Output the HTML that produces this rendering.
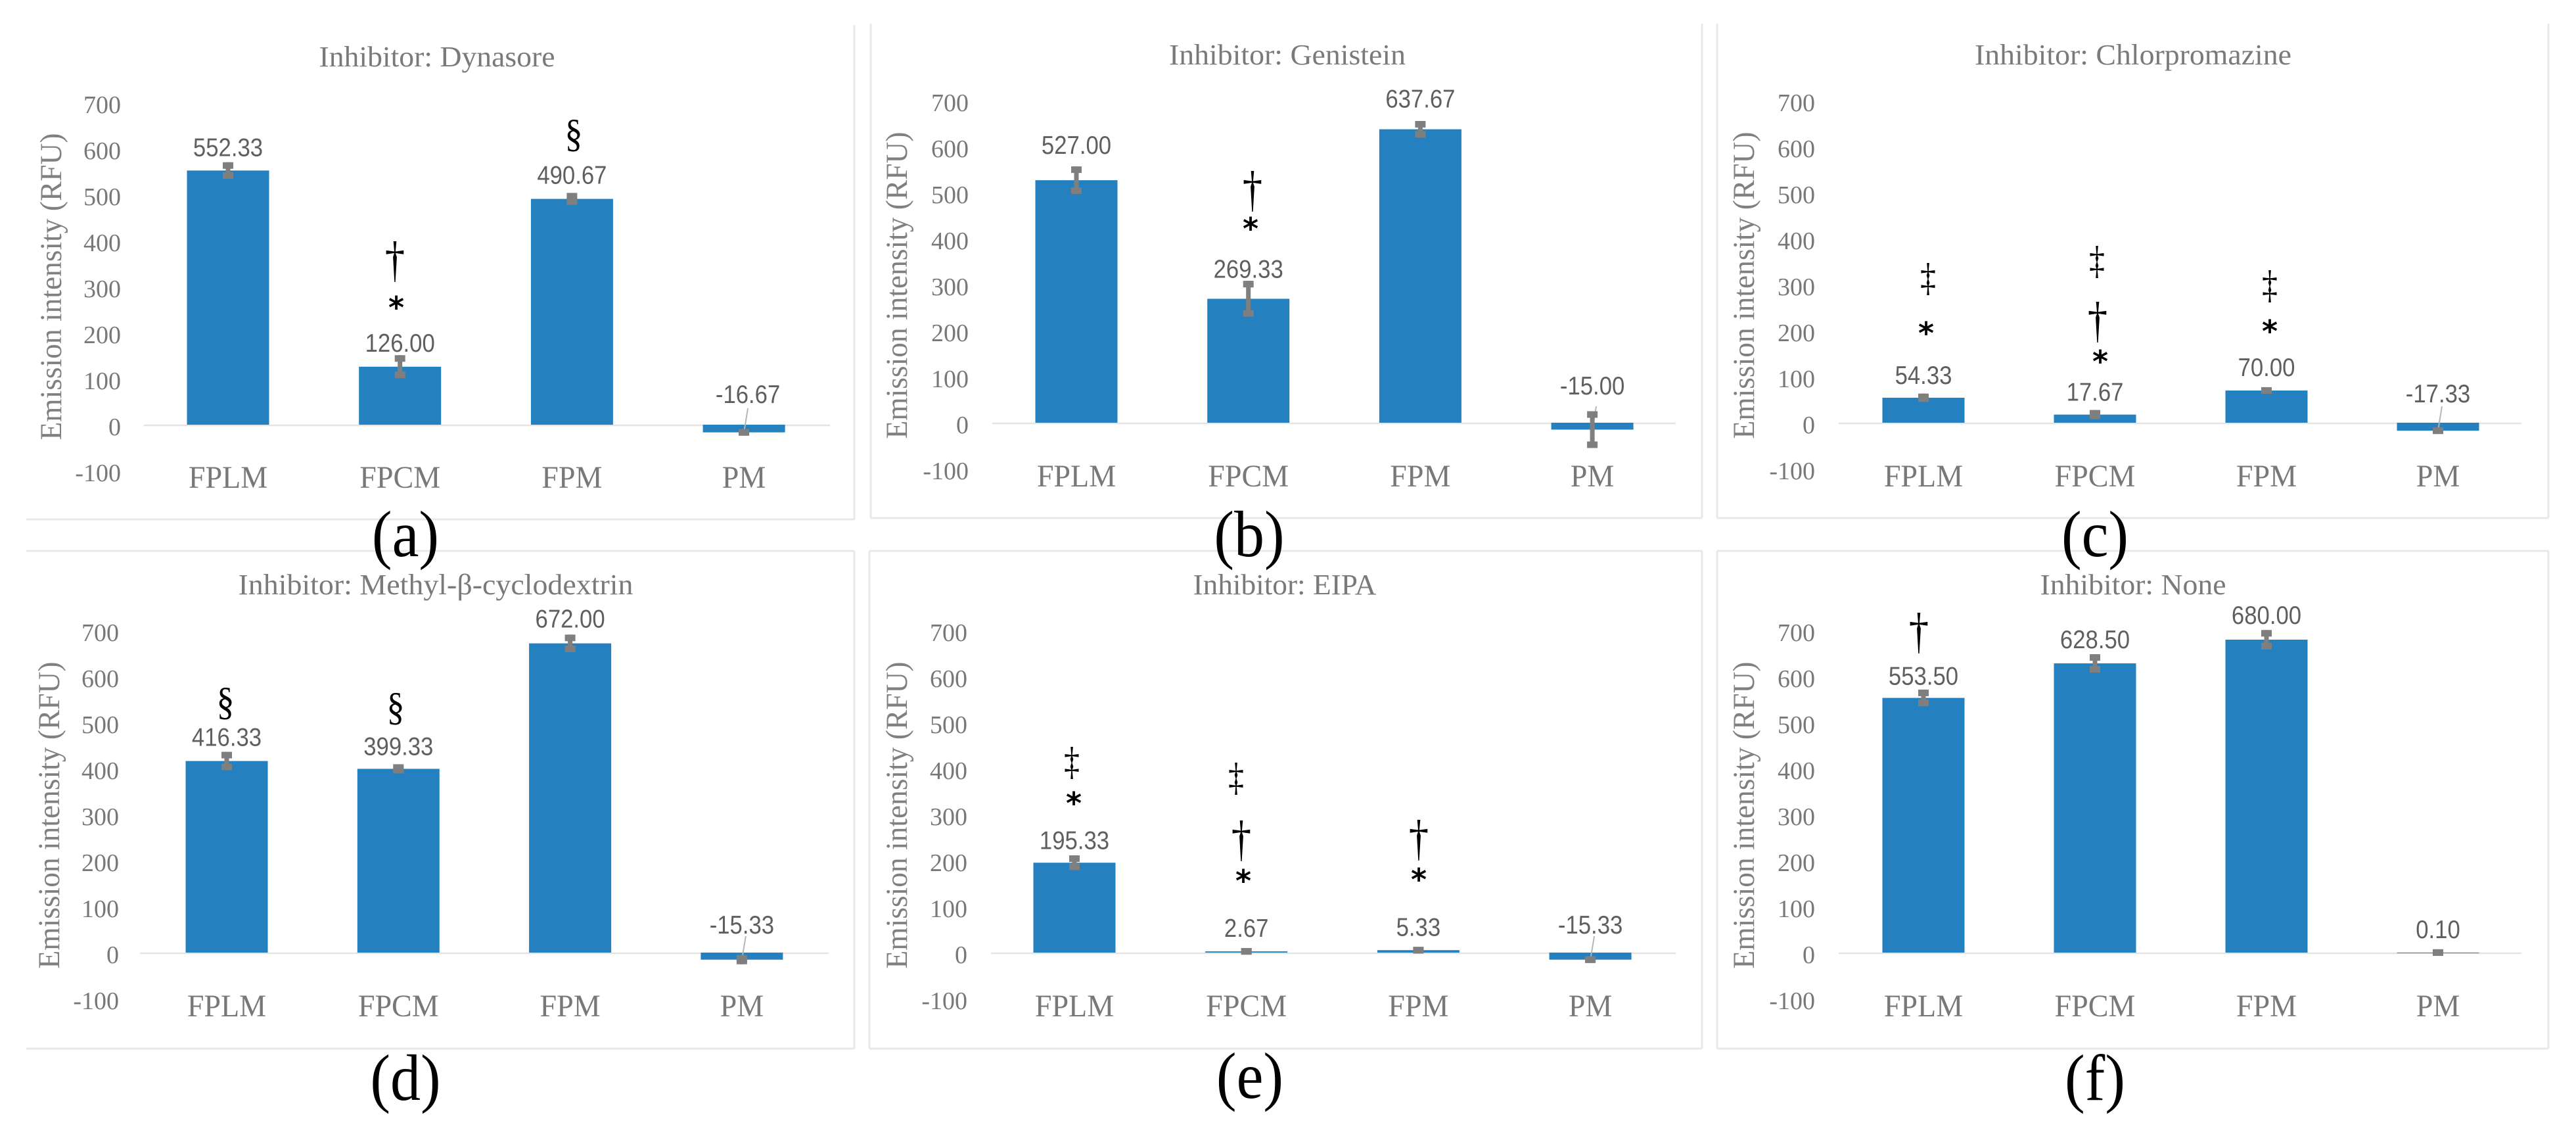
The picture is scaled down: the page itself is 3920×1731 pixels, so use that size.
<!DOCTYPE html>
<html lang="en">
<head>
<meta charset="utf-8">
<title>Emission intensity by inhibitor</title>
<style>
  html, body { margin: 0; padding: 0; background: #fff; }
  svg { display: block; }
  .serif { font-family: "Liberation Serif", serif; }
  .sans { font-family: "Liberation Sans", sans-serif; }
  .squeeze { transform-box: fill-box; transform-origin: center; }
  .cat-text { transform: scaleX(0.96); }
  .value-text { transform: scaleX(0.89); }
  .dagger { font-family: "Liberation Serif", serif; font-size: 76px; fill: #000; text-anchor: middle; transform: scaleX(0.8); }
  .ddagger { font-family: "Liberation Serif", serif; font-size: 60px; fill: #000; text-anchor: middle; transform: scaleX(0.8); }
  .section { font-family: "Liberation Serif", serif; font-size: 60px; fill: #000; text-anchor: middle; transform: scaleX(0.9); }
  .star { font-family: "DejaVu Sans", sans-serif; font-weight: bold; font-size: 46px; fill: #000; text-anchor: middle; }
  .sub { font-family: "Liberation Serif", serif; font-size: 100px; fill: #000; text-anchor: middle; transform: scaleX(0.92); }
</style>
</head>
<body>
<svg id="figure" xmlns="http://www.w3.org/2000/svg" width="3920" height="1731" viewBox="0 0 3920 1731">
  <rect x="0" y="0" width="3920" height="1731" fill="#fff"/>
  <g id="panels"></g>

  <g>
    <text class="dagger squeeze" x="601" y="420">†</text>
    <text class="star" x="603" y="484">*</text>
    <text class="section squeeze" x="873" y="223">§</text>
  </g>
  <g>
    <text class="dagger squeeze" x="1906" y="313">†</text>
    <text class="star" x="1903" y="364">*</text>
  </g>
  <g>
    <text class="ddagger squeeze" x="2934" y="442">‡</text>
    <text class="star" x="2931" y="523">*</text>
    <text class="ddagger squeeze" x="3191" y="416">‡</text>
    <text class="dagger squeeze" x="3192" y="512">†</text>
    <text class="star" x="3196" y="566">*</text>
    <text class="ddagger squeeze" x="3454" y="453">‡</text>
    <text class="star" x="3454" y="520">*</text>
  </g>
  <g>
    <text class="section squeeze" x="343" y="1087">§</text>
    <text class="section squeeze" x="602" y="1095">§</text>
  </g>
  <g>
    <text class="ddagger squeeze" x="1631" y="1178">‡</text>
    <text class="star" x="1634" y="1238">*</text>
    <text class="ddagger squeeze" x="1881" y="1202">‡</text>
    <text class="dagger squeeze" x="1889" y="1301">†</text>
    <text class="star" x="1892" y="1356">*</text>
    <text class="dagger squeeze" x="2159" y="1300">†</text>
    <text class="star" x="2159" y="1354">*</text>
  </g>
  <g>
    <text class="dagger squeeze" x="2920" y="985">†</text>
  </g>

  <text class="sub squeeze" x="617" y="846">(a)</text>
  <text class="sub squeeze" x="1901" y="846">(b)</text>
  <text class="sub squeeze" x="3188" y="846">(c)</text>
  <text class="sub squeeze" x="617" y="1673">(d)</text>
  <text class="sub squeeze" x="1902" y="1670">(e)</text>
  <text class="sub squeeze" x="3188" y="1673">(f)</text>
</svg>

<script>
// ---- chart data ----
const categories = ["FPLM", "FPCM", "FPM", "PM"];
const tickValues = [700, 600, 500, 400, 300, 200, 100, 0, -100];
const yAxisLabel = "Emission intensity (RFU)";

const titleA = "Inhibitor: Dynasore";
const valuesA = [552.33, 126.00, 490.67, -16.67];
const errorsA = [18, 25, 13, 7];

const titleB = "Inhibitor: Genistein";
const valuesB = [527.00, 269.33, 637.67, -15.00];
const errorsB = [30, 39, 18, 40];

const titleC = "Inhibitor: Chlorpromazine";
const valuesC = [54.33, 17.67, 70.00, -17.33];
const errorsC = [9, 10, 7, 7];

const titleD = "Inhibitor: Methyl-β-cyclodextrin";
const valuesD = [416.33, 399.33, 672.00, -15.33];
const errorsD = [20, 10, 19, 10];

const titleE = "Inhibitor: EIPA";
const valuesE = [195.33, 2.67, 5.33, -15.33];
const errorsE = [16, 7, 7, 7];

const titleF = "Inhibitor: None";
const valuesF = [553.50, 628.50, 680.00, 0.10];
const errorsF = [18, 20, 21, 7];

// ---- layout (not data) ----
const PX_PER_UNIT = 0.70;
const BAR_W = 125;
const NS = "http://www.w3.org/2000/svg";
const panelLayouts = [
  { id: "a", title: titleA, values: valuesA, errors: errorsA, first: 347, step: 261.7, zero: 646, tickX: 184, yTitleX: 80, yTitleY: 436, titleX: 665, titleY: 87, titleW: 359, catY: 726,
    frame: { l: 40, r: 1300, t: 38, b: 790, left: false, top: false }, axis: [219, 1263], lift: [36, 37, 37, 47], leader: [0, 0, 0, 1], shift: [0, 0, 0, 6] },
  { id: "b", title: titleB, values: valuesB, errors: errorsB, first: 1638, step: 261.7, zero: 643, tickX: 1474, yTitleX: 1367, yTitleY: 434, titleX: 1959, titleY: 84, titleW: 360, catY: 724,
    frame: { l: 1325, r: 2590, t: 36, b: 788, left: true, top: false }, axis: [1510, 2550], lift: [54, 46, 47, 57], leader: [0, 0, 0, 1], shift: [0, 0, 0, 0] },
  { id: "c", title: titleC, values: valuesC, errors: errorsC, first: 2927, step: 261, zero: 643, tickX: 2762, yTitleX: 2656, yTitleY: 434, titleX: 3246, titleY: 84, titleW: 482, catY: 724,
    frame: { l: 2613, r: 3878, t: 36, b: 788, left: true, top: false }, axis: [2798, 3837], lift: [35, 35, 36, 45], leader: [0, 0, 0, 1], shift: [0, 0, 0, 0] },
  { id: "d", title: titleD, values: valuesD, errors: errorsD, first: 345, step: 261.3, zero: 1449, tickX: 181, yTitleX: 77, yTitleY: 1240, titleX: 663, titleY: 890, titleW: 601, catY: 1530,
    frame: { l: 40, r: 1300, t: 838, b: 1595, left: false, top: true }, axis: [213, 1261], lift: [37, 35, 38, 43], leader: [0, 0, 0, 1], shift: [0, 0, 0, 0] },
  { id: "e", title: titleE, values: valuesE, errors: errorsE, first: 1635, step: 261.7, zero: 1449, tickX: 1472, yTitleX: 1367, yTitleY: 1240, titleX: 1955, titleY: 890, titleW: 279, catY: 1530,
    frame: { l: 1323, r: 2590, t: 838, b: 1595, left: true, top: true }, axis: [1508, 2550], lift: [35, 36, 36, 43], leader: [0, 0, 0, 1], shift: [0, 0, 0, 0] },
  { id: "f", title: titleF, values: valuesF, errors: errorsF, first: 2927, step: 261, zero: 1449, tickX: 2762, yTitleX: 2656, yTitleY: 1240, titleX: 3246, titleY: 890, titleW: 283, catY: 1530,
    frame: { l: 2613, r: 3878, t: 838, b: 1595, left: true, top: true }, axis: [2798, 3837], lift: [34, 37, 38, 36], leader: [0, 0, 0, 0], shift: [0, 0, 0, 0] }
];

function make(tag, attrs, text) {
  const node = document.createElementNS(NS, tag);
  for (const k in attrs) node.setAttribute(k, attrs[k]);
  if (text !== undefined) node.textContent = text;
  return node;
}

function drawPanel(p, root) {
  const xScale = i => p.first + i * p.step;
  const yScale = v => p.zero - v * PX_PER_UNIT;

  const g = make("g", {});
  
  
  root.appendChild(g);

  // frame
  const f = p.frame;
  const sides = [[f.r, f.t, f.r, f.b], [f.l, f.b, f.r, f.b]];
  if (f.left) sides.push([f.l, f.t, f.l, f.b]);
  if (f.top) sides.push([f.l, f.t, f.r, f.t]);
  sides.forEach(s => {
    const border = make("line", { x1: s[0], y1: s[1], x2: s[2], y2: s[3], stroke: "#e8e8e8", "stroke-width": 3 });
    
    
    g.appendChild(border);
  });

  // title
  const title = make("text", { class: "serif", x: p.titleX, y: p.titleY + 14, "text-anchor": "middle", "font-size": 44, fill: "#7a7a7a", textLength: p.titleW, lengthAdjust: "spacingAndGlyphs" }, p.title);
  
  
  g.appendChild(title);

  // y-axis title
  const yTitle = make("text", { class: "serif", "text-anchor": "middle", "font-size": 47, fill: "#808080", textLength: 467, lengthAdjust: "spacingAndGlyphs", transform: "translate(" + (p.yTitleX + 13) + "," + p.yTitleY + ") rotate(-90)" }, yAxisLabel);
  
  
  g.appendChild(yTitle);

  // y ticks
  tickValues.forEach(t => {
    const tick = make("text", { class: "serif", x: p.tickX, y: yScale(t) + 3 + 13, "text-anchor": "end", "font-size": 38, fill: "#787878" }, String(t));
    
    
    g.appendChild(tick);
  });

  // zero line
  const axis = make("line", { x1: p.axis[0], x2: p.axis[1], y1: p.zero + 1, y2: p.zero + 1, stroke: "#e4e4e4", "stroke-width": 2.5 });
  
  
  g.appendChild(axis);

  categories.forEach((cat, i) => {
    const v = p.values[i];
    const e = p.errors[i];
    const cx = xScale(i);
    const y0 = yScale(0);
    const yv = yScale(v);

    const bar = make("rect", { x: cx - BAR_W / 2, y: Math.min(y0, yv), width: BAR_W, height: Math.max(Math.abs(yv - y0), 1), fill: "#2480bf" });
    
    
    g.appendChild(bar);

    if (p.leader[i]) {
      const leader = make("line", { x1: cx, x2: cx + 6, y1: yv, y2: yScale(Math.max(v, 0)) - 25, stroke: "#b5b5b5", "stroke-width": 2 });
      
      
      g.appendChild(leader);
    }

    // error bar: stem plus two square caps
    const yTop = yScale(v + e);
    const yBot = yScale(v - e);
    const stem = make("line", { x1: cx, x2: cx, y1: yTop, y2: yBot, stroke: "#7f7f7f", "stroke-width": 7 });
    
    
    g.appendChild(stem);
    const capTop = make("rect", { x: cx - 8, y: yTop, width: 16, height: 10, fill: "#7f7f7f" });
    
    
    g.appendChild(capTop);
    const capBot = make("rect", { x: cx - 8, y: yBot - 10, width: 16, height: 10, fill: "#7f7f7f" });
    
    
    g.appendChild(capBot);

    // printed value
    const label = make("text", { class: "sans squeeze value-text", x: cx + p.shift[i], y: yScale(Math.max(v, 0)) - p.lift[i] + 14, "text-anchor": "middle", "font-size": 39, fill: "#5f5f5f" }, v.toFixed(2));
    
    
    g.appendChild(label);

    // category
    const catLabel = make("text", { class: "serif squeeze cat-text", x: cx, y: p.catY + 16, "text-anchor": "middle", "font-size": 48, fill: "#787878" }, cat);
    
    
    g.appendChild(catLabel);
  });
}

const panelsRoot = document.getElementById("panels");
panelLayouts.forEach(p => drawPanel(p, panelsRoot));
</script>
</body>
</html>
